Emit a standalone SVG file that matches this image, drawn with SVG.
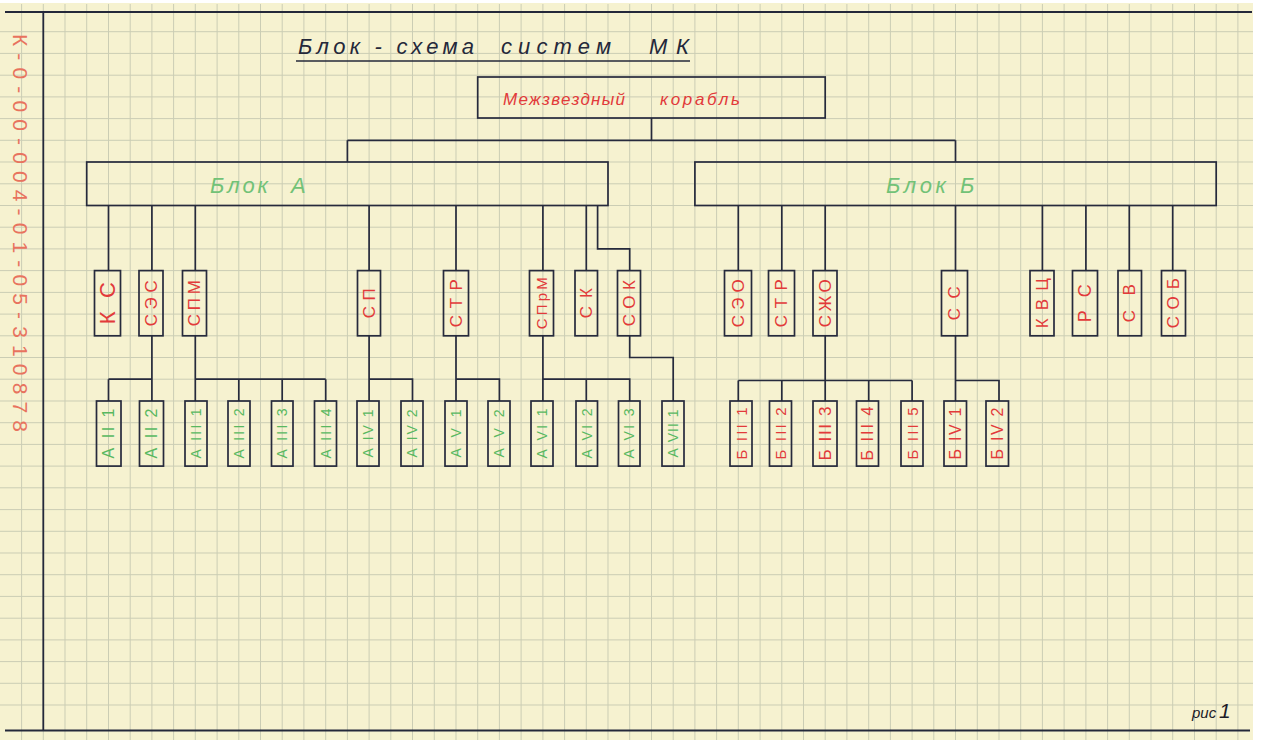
<svg xmlns="http://www.w3.org/2000/svg" width="1261" height="740" viewBox="0 0 1261 740">
<style>
.grid{stroke:#cbcdb4;stroke-width:1;fill:none}
.frame{stroke:#24283a;stroke-width:1.8;fill:none}
.box{stroke:#262a3c;stroke-width:1.7;fill:none}
.con{stroke:#262a3c;stroke-width:1.7;fill:none}
.title{font-family:'Liberation Sans',Arial,sans-serif;font-style:italic;font-size:22px;fill:#24283a}
.red{font-family:'Liberation Sans',Arial,sans-serif;fill:#e23a3a}
.grn{font-family:'Liberation Sans',Arial,sans-serif;fill:#58b860}
.blk{font-family:'Liberation Sans',Arial,sans-serif;font-style:italic;font-size:22px;fill:#72c277}
.l1{font-size:17px;text-anchor:middle;dominant-baseline:central}
.l3{font-size:14px;text-anchor:middle;dominant-baseline:central}
.mrg{font-family:'Liberation Sans',Arial,sans-serif;font-size:21px;fill:#e8735e;dominant-baseline:central}
.ris{font-family:'Liberation Sans',Arial,sans-serif;font-style:italic;fill:#1c1c28}
</style>
<rect x="0" y="3" width="1253" height="737" fill="#f6f2d0"/>
<g id="grid" class="grid">
<path d="M21.6 4V740M43.3 4V740M65 4V740M86.7 4V740M108.5 4V740M130.2 4V740M151.9 4V740M173.6 4V740M195.3 4V740M217.1 4V740M238.8 4V740M260.5 4V740M282.2 4V740M303.9 4V740M325.7 4V740M347.4 4V740M369.1 4V740M390.8 4V740M412.5 4V740M434.3 4V740M456 4V740M477.7 4V740M499.4 4V740M521.1 4V740M542.9 4V740M564.6 4V740M586.3 4V740M608 4V740M629.7 4V740M651.5 4V740M673.2 4V740M694.9 4V740M716.6 4V740M738.3 4V740M760.1 4V740M781.8 4V740M803.5 4V740M825.2 4V740M846.9 4V740M868.7 4V740M890.4 4V740M912.1 4V740M933.8 4V740M955.5 4V740M977.3 4V740M999 4V740M1020.7 4V740M1042.4 4V740M1064.1 4V740M1085.9 4V740M1107.6 4V740M1129.3 4V740M1151 4V740M1172.7 4V740M1194.5 4V740M1216.2 4V740M1237.9 4V740"/>
<path d="M0 31.7H1253M0 53.4H1253M0 75.2H1253M0 96.9H1253M0 118.6H1253M0 140.3H1253M0 162H1253M0 183.8H1253M0 205.5H1253M0 227.2H1253M0 248.9H1253M0 270.6H1253M0 292.4H1253M0 314.1H1253M0 335.8H1253M0 357.5H1253M0 379.2H1253M0 401H1253M0 422.7H1253M0 444.4H1253M0 466.1H1253M0 487.8H1253M0 509.6H1253M0 531.3H1253M0 553H1253M0 574.7H1253M0 596.4H1253M0 618.2H1253M0 639.9H1253M0 661.6H1253M0 683.3H1253M0 705H1253"/>
</g>
<g id="frame" class="frame">
<path d="M5 12H1252M43.3 12V731M5 730.5H1250"/>
</g>
<text class="mrg" transform="translate(20,34) rotate(90)" textLength="398" lengthAdjust="spacing">К-0-00-004-01-05-310878</text>
<g id="title">
<text class="title" x="298" y="54" textLength="176" lengthAdjust="spacing">Блок - схема</text>
<text class="title" x="501" y="54" textLength="110" lengthAdjust="spacing">систем</text>
<text class="title" x="649" y="54" textLength="40" lengthAdjust="spacing">МК</text>
<path d="M296 61H690" stroke="#24283a" stroke-width="1.5"/>
</g>
<text class="ris" x="1192" y="718" style="font-size:15px">рис</text>
<text class="ris" x="1219" y="718" style="font-size:21px">1</text>

<g id="connectors" class="con">
<path d="M651.5 118V140.3M347.4 140.3H955.5M347.4 140.3V162M955.5 140.3V162"/>
<path d="M108.5 205.5V270.6M151.9 205.5V270.6M195.3 205.5V270.6M369.1 205.5V270.6M456 205.5V270.6M542.9 205.5V270.6M586.3 205.5V270.6M597.6 205.5V248.9H629.7V270.6"/>
<path d="M738.3 205.5V270.6M781.8 205.5V270.6M825.2 205.5V270.6M955.5 205.5V270.6M1042.4 205.5V270.6M1085.9 205.5V270.6M1129.3 205.5V270.6M1172.7 205.5V270.6"/>
<path d="M151.9 335.8V379.2M108.5 379.2H151.9M108.5 379.2V401M151.9 379.2V401"/>
<path d="M195.3 335.8V401M195.3 379.2H325.7M238.8 379.2V401M282.2 379.2V401M325.7 379.2V401"/>
<path d="M369.1 335.8V401M369.1 379.2H412.5V401"/>
<path d="M456 335.8V401M456 379.2H499.4V401"/>
<path d="M542.9 335.8V401M542.9 379.2H629.7V401M586.3 379.2V401"/>
<path d="M629.7 335.8V357.5H673.2V401"/>
<path d="M825.2 335.8V401M738.3 380.5H912.1M738.3 380.5V401M781.8 380.5V401M868.7 380.5V401M912.1 380.5V401"/>
<path d="M955.5 335.8V401M955.5 380.5H999V401"/>
</g>

<g id="n-mk"><rect class="box" x="477.7" y="77" width="347.5" height="41"/>
<text class="red" style="font-style:italic;font-size:17px" x="503" y="105" textLength="122" lengthAdjust="spacing">Межзвездный</text>
<text class="red" style="font-style:italic;font-size:17px" x="660" y="105" textLength="80" lengthAdjust="spacing">корабль</text></g>
<g id="n-blockA"><rect class="box" x="86.7" y="162" width="521.3" height="43.5"/>
<text class="blk"><tspan x="210" y="193" textLength="58" lengthAdjust="spacing">Блок</tspan><tspan x="291" y="193">А</tspan></text></g>
<g id="n-blockB"><rect class="box" x="694.9" y="162" width="521.3" height="43.5"/>
<text class="blk"><tspan x="886" y="193" textLength="60" lengthAdjust="spacing">Блок</tspan><tspan x="960" y="193">Б</tspan></text></g>

<g id="n-ks"><rect class="box" x="94.5" y="270.6" width="26" height="65.2"/><text class="red l1" style="font-size:22px" transform="translate(107.5,303.2) rotate(-90)" textLength="42" lengthAdjust="spacing">КС</text></g>
<g id="n-ses"><rect class="box" x="139" y="270.6" width="24" height="65.2"/><text class="red l1" transform="translate(151,303.2) rotate(-90)" textLength="46" lengthAdjust="spacing">СЭС</text></g>
<g id="n-spm"><rect class="box" x="182.5" y="270.6" width="24" height="65.2"/><text class="red l1" transform="translate(194.5,303.2) rotate(-90)" textLength="46" lengthAdjust="spacing">СПМ</text></g>
<g id="n-sp"><rect class="box" x="357.5" y="270.6" width="23" height="65.2"/><text class="red l1" transform="translate(369,303.2) rotate(-90)" textLength="30" lengthAdjust="spacing">СП</text></g>
<g id="n-str-a"><rect class="box" x="443.5" y="270.6" width="25" height="65.2"/><text class="red l1" transform="translate(456,303.2) rotate(-90)" textLength="48" lengthAdjust="spacing">СТР</text></g>
<g id="n-sprm"><rect class="box" x="529.5" y="270.6" width="24" height="65.2"/><text class="red l1" style="font-size:15px" transform="translate(541.5,303.2) rotate(-90)" textLength="52" lengthAdjust="spacing">СПрМ</text></g>
<g id="n-sk"><rect class="box" x="575" y="270.6" width="22.5" height="65.2"/><text class="red l1" transform="translate(586.3,303.2) rotate(-90)" textLength="30" lengthAdjust="spacing">СК</text></g>
<g id="n-sok"><rect class="box" x="617.5" y="270.6" width="23" height="65.2"/><text class="red l1" transform="translate(629,303.2) rotate(-90)" textLength="46" lengthAdjust="spacing">СОК</text></g>
<g id="n-seo"><rect class="box" x="724.5" y="270.6" width="27" height="65.2"/><text class="red l1" transform="translate(738,303.2) rotate(-90)" textLength="48" lengthAdjust="spacing">СЭО</text></g>
<g id="n-str-b"><rect class="box" x="768.5" y="270.6" width="26" height="65.2"/><text class="red l1" transform="translate(781.5,303.2) rotate(-90)" textLength="48" lengthAdjust="spacing">СТР</text></g>
<g id="n-szho"><rect class="box" x="813" y="270.6" width="24" height="65.2"/><text class="red l1" transform="translate(825,303.2) rotate(-90)" textLength="48" lengthAdjust="spacing">СЖО</text></g>
<g id="n-ss"><rect class="box" x="941.5" y="270.6" width="26" height="65.2"/><text class="red l1" transform="translate(954.5,303.2) rotate(-90)" textLength="34" lengthAdjust="spacing">СС</text></g>
<g id="n-kvts"><rect class="box" x="1030" y="270.6" width="24" height="65.2"/><text class="red l1" transform="translate(1042,303.2) rotate(-90)" textLength="50" lengthAdjust="spacing">КВЦ</text></g>
<g id="n-rs"><rect class="box" x="1072.5" y="270.6" width="25" height="65.2"/><text class="red l1" style="font-size:18px" transform="translate(1085,303.2) rotate(-90)" textLength="38" lengthAdjust="spacing">РС</text></g>
<g id="n-sv"><rect class="box" x="1118" y="270.6" width="23.5" height="65.2"/><text class="red l1" transform="translate(1129.8,303.2) rotate(-90)" textLength="38" lengthAdjust="spacing">СВ</text></g>
<g id="n-sob"><rect class="box" x="1161.5" y="270.6" width="24" height="65.2"/><text class="red l1" transform="translate(1173.5,303.2) rotate(-90)" textLength="50" lengthAdjust="spacing">СОБ</text></g>

<g id="n-a2-1"><rect class="box" x="96.5" y="401" width="24.5" height="65.1"/><text class="grn l3" style="font-size:16px" transform="translate(108.7,433.5) rotate(-90)" textLength="50" lengthAdjust="spacing">А II 1</text></g>
<g id="n-a2-2"><rect class="box" x="139.5" y="401" width="24" height="65.1"/><text class="grn l3" style="font-size:16px" transform="translate(151.5,433.5) rotate(-90)" textLength="50" lengthAdjust="spacing">А II 2</text></g>
<g id="n-a3-1"><rect class="box" x="185" y="401" width="22" height="65.1"/><text class="grn l3" transform="translate(196,433.5) rotate(-90)" textLength="50" lengthAdjust="spacing">А III 1</text></g>
<g id="n-a3-2"><rect class="box" x="228" y="401" width="22" height="65.1"/><text class="grn l3" transform="translate(239,433.5) rotate(-90)" textLength="50" lengthAdjust="spacing">А III 2</text></g>
<g id="n-a3-3"><rect class="box" x="271.5" y="401" width="21.5" height="65.1"/><text class="grn l3" transform="translate(282.2,433.5) rotate(-90)" textLength="50" lengthAdjust="spacing">А III 3</text></g>
<g id="n-a3-4"><rect class="box" x="314.5" y="401" width="22" height="65.1"/><text class="grn l3" transform="translate(325.5,433.5) rotate(-90)" textLength="50" lengthAdjust="spacing">А III 4</text></g>
<g id="n-a4-1"><rect class="box" x="357" y="401" width="22" height="65.1"/><text class="grn l3" transform="translate(368,433.5) rotate(-90)" textLength="48" lengthAdjust="spacing">А IV 1</text></g>
<g id="n-a4-2"><rect class="box" x="401" y="401" width="22" height="65.1"/><text class="grn l3" transform="translate(412,433.5) rotate(-90)" textLength="48" lengthAdjust="spacing">А IV 2</text></g>
<g id="n-a5-1"><rect class="box" x="445" y="401" width="22" height="65.1"/><text class="grn l3" transform="translate(456,433.5) rotate(-90)" textLength="48" lengthAdjust="spacing">А V 1</text></g>
<g id="n-a5-2"><rect class="box" x="488" y="401" width="22" height="65.1"/><text class="grn l3" transform="translate(499,433.5) rotate(-90)" textLength="48" lengthAdjust="spacing">А V 2</text></g>
<g id="n-a6-1"><rect class="box" x="531" y="401" width="22" height="65.1"/><text class="grn l3" transform="translate(542,433.5) rotate(-90)" textLength="50" lengthAdjust="spacing">А VI 1</text></g>
<g id="n-a6-2"><rect class="box" x="576" y="401" width="21.5" height="65.1"/><text class="grn l3" transform="translate(586.7,433.5) rotate(-90)" textLength="50" lengthAdjust="spacing">А VI 2</text></g>
<g id="n-a6-3"><rect class="box" x="618.5" y="401" width="21.5" height="65.1"/><text class="grn l3" transform="translate(629.3,433.5) rotate(-90)" textLength="50" lengthAdjust="spacing">А VI 3</text></g>
<g id="n-a7-1"><rect class="box" x="662" y="401" width="22" height="65.1"/><text class="grn l3" transform="translate(673,433.5) rotate(-90)" textLength="48" lengthAdjust="spacing">А VII 1</text></g>

<g id="n-b3-1"><rect class="box" x="730" y="401" width="22" height="65.1"/><text class="red l3" style="font-size:15px" transform="translate(741,433.5) rotate(-90)" textLength="52" lengthAdjust="spacing">Б III 1</text></g>
<g id="n-b3-2"><rect class="box" x="769.5" y="401" width="22" height="65.1"/><text class="red l3" style="font-size:15px" transform="translate(780.5,433.5) rotate(-90)" textLength="52" lengthAdjust="spacing">Б III 2</text></g>
<g id="n-b3-3"><rect class="box" x="813" y="401" width="24" height="65.1"/><text class="red l3" style="font-size:17px" transform="translate(825,433.5) rotate(-90)" textLength="54" lengthAdjust="spacing">Б III 3</text></g>
<g id="n-b3-4"><rect class="box" x="856.5" y="401" width="22" height="65.1"/><text class="red l3" style="font-size:16px" transform="translate(867.5,433.5) rotate(-90)" textLength="54" lengthAdjust="spacing">Б III 4</text></g>
<g id="n-b3-5"><rect class="box" x="901" y="401" width="22" height="65.1"/><text class="red l3" style="font-size:15px" transform="translate(912,433.5) rotate(-90)" textLength="52" lengthAdjust="spacing">Б III 5</text></g>
<g id="n-b4-1"><rect class="box" x="944" y="401" width="22.5" height="65.1"/><text class="red l3" style="font-size:16px" transform="translate(955.2,433.5) rotate(-90)" textLength="52" lengthAdjust="spacing">Б IV 1</text></g>
<g id="n-b4-2"><rect class="box" x="986" y="401" width="22.5" height="65.1"/><text class="red l3" style="font-size:16px" transform="translate(997.2,433.5) rotate(-90)" textLength="52" lengthAdjust="spacing">Б IV 2</text></g>
</svg>
